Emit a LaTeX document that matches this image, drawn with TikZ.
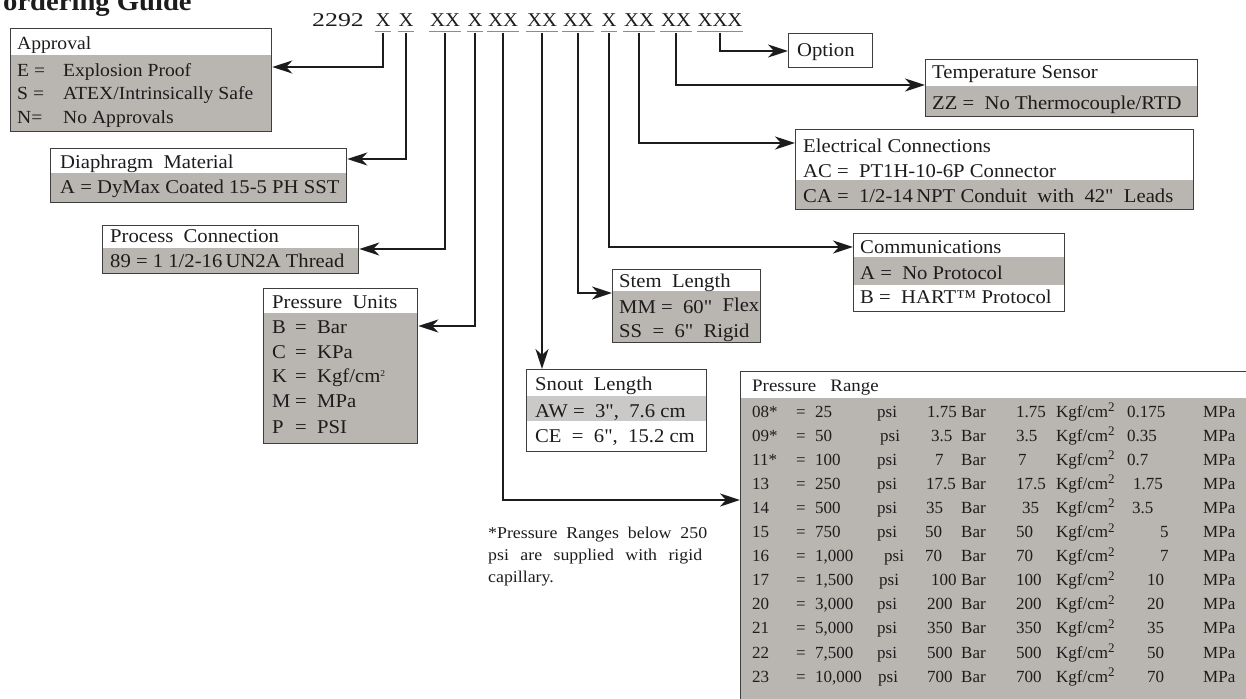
\documentclass[tikz,border=0pt]{standalone}
\usepackage{fontspec}
\setmainfont{Liberation Serif}[FakeStretch=1.06,Ligatures=TeXOff]
\newfontfamily\tblfont{Liberation Serif}[Ligatures=TeXOff]
\newfontfamily\notefont{Liberation Serif}[FakeStretch=1.08,Ligatures=TeXOff]
\usetikzlibrary{arrows.meta}
\definecolor{boxgray}{RGB}{185,181,177}
\definecolor{litegray}{RGB}{202,201,200}
\definecolor{edge}{RGB}{62,62,62}
\definecolor{ink}{RGB}{28,28,28}
\definecolor{ulgray}{RGB}{140,140,140}
\newcommand{\bsup}{\raisebox{6pt}{\fontsize{9}{9}\selectfont 2}}
\newcommand{\tsup}{\raisebox{5.5pt}{\fontsize{13}{12}\selectfont 2}}
\begin{document}
\begin{tikzpicture}[x=1pt,y=-1pt,
  conn/.style={draw=ink, line width=2.4pt, -{Stealth[length=20pt,width=13pt,inset=6pt]}},
  frame/.style={draw=edge, line width=1.3pt, inner sep=0pt, anchor=north west},
  shade/.style={fill=boxgray},
  uline/.style={draw=ulgray, line width=1.8pt},
  codetxt/.style={anchor=base, inner sep=0pt, inner xsep=0.8pt, font=\fontsize{19.5}{23}\selectfont, text=ink},
  txt/.style={anchor=base west, inner sep=0pt, font=\fontsize{19.5}{23}\selectfont, text=ink},
  smtxt/.style={anchor=base west, inner sep=0pt, font=\fontsize{18.5}{22}\selectfont, text=ink},
  tbl/.style={anchor=base west, inner sep=0pt, font=\tblfont\fontsize{17}{20}\selectfont, text=ink},
  note/.style={anchor=base west, inner sep=0pt, font=\notefont\fontsize{16.5}{19}\selectfont, text=ink}
]
\useasboundingbox (0,0) rectangle (1246,698);
\clip (0,0) rectangle (1246,698);

% title
\node[anchor=base west, inner sep=0pt, font=\bfseries\fontsize{27}{27}\selectfont, text=ink] (title) at (3,11) {ordering Guide};

% code line
\node[anchor=base west, inner sep=0pt, font=\fontsize{19.5}{23}\selectfont, text=ink] (model) at (312,27) {\scalebox{1.25}[1]{2292}};
\foreach \n/\x/\t in {c1/383/X, c2/406/X, c3/445/XX, c4/475/X, c5/503/XX, c6/542/XX, c7/578/XX, c8/609/X, c9/639/XX, c10/676/XX, c11/720/XXX}{
  \node[codetxt] (\n) at (\x,27) {\t};
  \draw[uline] ([yshift=-4.5pt]\n.base west) -- ([yshift=-4.5pt]\n.base east);
}

% ---------- Approval
\fill[shade] (10,55) rectangle (271,131);
\node[frame, minimum width=261pt, minimum height=103pt] (approval) at (10,28) {};
\node[smtxt] (apT) at (17,50) {Approval};
\node[smtxt] (apE1) at (17,77) {E =};
\node[smtxt] (apE2) at (63,77) {Explosion Proof};
\node[smtxt] (apS1) at (17,100) {S =};
\node[smtxt] (apS2) at (63,100) {ATEX/Intrinsically Safe};
\node[smtxt] (apN1) at (17,123) {N=};
\node[smtxt] (apN2) at (63,123) {No Approvals};

% ---------- Diaphragm
\fill[shade] (50,173) rectangle (346,202);
\node[frame, minimum width=296pt, minimum height=54pt] (diaph) at (50,148) {};
\node[txt] (diT) at (60,168) {Diaphragm\ \ Material};
\node[txt] (diA) at (60,193) {A = DyMax Coated 15-5 PH SST};

% ---------- Process connection
\fill[shade] (102,248) rectangle (358,273);
\node[frame, minimum width=256pt, minimum height=48pt] (proc) at (102,225) {};
\node[txt] (prT) at (110,242) {Process\ \ Connection};
\node[txt] (prA) at (110,267) {89 = 1 1/2-16\,UN2A Thread};

% ---------- Pressure units
\fill[shade] (263,313) rectangle (417,443);
\node[frame, minimum width=154pt, minimum height=155pt] (units) at (263,288) {};
\node[txt] (unT) at (272,308) {Pressure\ \ Units};
\foreach \k/\l/\v/\y in {uB/B/Bar/333, uC/C/KPa/358, uK/K/{Kgf/cm\bsup}/382, uM/M/MPa/407, uP/P/PSI/433}{
  \node[txt] (\k a) at (272,\y) {\l};
  \node[txt] (\k b) at (295,\y) {=};
  \node[txt] (\k c) at (317,\y) {\v};
}

% ---------- Snout length
\fill[litegray] (526,396) rectangle (706,421);
\node[frame, minimum width=180pt, minimum height=82pt] (snout) at (526,369) {};
\node[txt] (snT) at (535,390) {Snout\ \ Length};
\node[txt] (snA) at (535,417) {AW =\ \ 3",\ \ 7.6 cm};
\node[txt] (snC) at (535,442) {CE\ \ =\ \ 6",\ \ 15.2 cm};

% ---------- Stem length
\fill[shade] (612,291) rectangle (760,342);
\node[frame, minimum width=148pt, minimum height=73pt] (stem) at (612,269) {};
\node[txt] (stT) at (619,287) {Stem\ \ Length};
\node[txt] (stM) at (619,313) {MM =\ \ 60"\ \ \raisebox{1.5pt}{Flex}};
\node[txt] (stS) at (619,337) {SS\ \ =\ \ 6"\ \ Rigid};

% ---------- Communications
\fill[shade] (853,257) rectangle (1064,285);
\node[frame, minimum width=211pt, minimum height=78pt] (comm) at (853,233) {};
\node[txt] (coT) at (860,253) {Communications};
\node[txt] (coA) at (860,279) {A =\ \ No Protocol};
\node[txt] (coB) at (860,303) {B =\ \ HART™\ Protocol};

% ---------- Electrical connections
\fill[shade] (795,180) rectangle (1193,209);
\node[frame, minimum width=398pt, minimum height=80pt] (elec) at (795,129) {};
\node[txt] (elT) at (803,152) {Electrical Connections};
\node[txt] (elA) at (803,177) {AC =\ \ PT1H-10-6P\ Connector};
\node[txt] (elC) at (803,202) {CA =\ \ 1/2-14\,NPT\ Conduit\ \ with\ \ 42"\ \ Leads};

% ---------- Temperature sensor
\fill[shade] (925,86) rectangle (1197,116);
\node[frame, minimum width=272pt, minimum height=57pt] (temp) at (925,59) {};
\node[txt] (teT) at (932,79) {Temperature Sensor};
\node[txt] (teZ) at (932,110) {ZZ =\ \ No Thermocouple/RTD};

% ---------- Option
\node[frame, minimum width=84pt, minimum height=34pt] (option) at (788,33) {};
\node[txt] (opT) at (797,57) {Option};

% ---------- Pressure range
\fill[shade] (740,398) rectangle (1252,704);
\node[frame, minimum width=512pt, minimum height=333pt] (range) at (740,371) {};
\node[anchor=base west, inner sep=0pt, font=\notefont\fontsize{17.5}{20}\selectfont, text=ink] (raT) at (752,391) {Pressure\ \ \ Range};
\foreach [count=\i from 0] \cd/\va/\px/\bn/\bx/\kn/\kx/\mv/\mx in {
  08*/25/877/1.75/927/1.75/1016/0.175/1127,
  09*/50/880/3.5/931/3.5/1016/0.35/1127,
  11*/100/877/7/935/7/1018/0.7/1127,
  13/250/877/17.5/926/17.5/1016/1.75/1133,
  14/500/877/35/926/35/1022/3.5/1132,
  15/750/877/50/925/50/1016/5/1160,
  16/{1,000}/884/70/925/70/1016/7/1160,
  17/{1,500}/879/100/931/100/1016/10/1147,
  20/{3,000}/877/200/927/200/1016/20/1147,
  21/{5,000}/877/350/927/350/1016/35/1147,
  22/{7,500}/877/500/927/500/1016/50/1147,
  23/{10,000}/878/700/927/700/1016/70/1147}{
  \pgfmathsetmacro{\yy}{417+24.1*\i}
  \node[tbl] (r\i a) at (752,\yy) {\cd};
  \node[tbl] (r\i b) at (796,\yy) {=};
  \node[tbl] (r\i c) at (815,\yy) {\va};
  \node[tbl] (r\i d) at (\px,\yy) {psi};
  \node[tbl] (r\i e) at (\bx,\yy) {\bn};
  \node[tbl] (r\i f) at (961,\yy) {Bar};
  \node[tbl] (r\i g) at (\kx,\yy) {\kn};
  \node[tbl] (r\i h) at (1056,\yy) {Kgf/cm\tsup};
  \node[tbl] (r\i i) at (\mx,\yy) {\mv};
  \node[tbl] (r\i j) at (1203,\yy) {MPa};
}

% footnote
\node[note] (fn1) at (488,538) {\makebox[219pt][s]{*Pressure Ranges below 250}};
\node[note] (fn2) at (488,560) {\makebox[214pt][s]{psi are supplied with rigid}};
\node[note] (fn3) at (488,582) {capillary.};

% ---------- connectors
\draw[conn] ([yshift=-6pt]c1.base) |- ([yshift=-39pt]approval.north east);
\draw[conn] ([yshift=-6pt]c2.base) |- ([yshift=-11pt]diaph.north east);
\draw[conn] ([yshift=-6pt]c3.base) |- ([yshift=-24pt]proc.north east);
\draw[conn] ([yshift=-6pt]c4.base) |- ([yshift=-38pt]units.north east);
\draw[conn] ([yshift=-6pt]c5.base) |- ([yshift=-129pt]range.north west);
\draw[conn] ([yshift=-6pt]c6.base) -- (c6.base |- snout.north);
\draw[conn] ([yshift=-6pt]c7.base) |- ([yshift=-24pt]stem.north west);
\draw[conn] ([yshift=-6pt]c8.base) |- ([yshift=-14pt]comm.north west);
\draw[conn] ([yshift=-6pt]c9.base) |- ([yshift=-14pt]elec.north west);
\draw[conn] ([yshift=-6pt]c10.base) |- ([yshift=-26pt]temp.north west);
\draw[conn] ([yshift=-6pt]c11.base) |- ([yshift=-18pt]option.north west);
\end{tikzpicture}
\end{document}
